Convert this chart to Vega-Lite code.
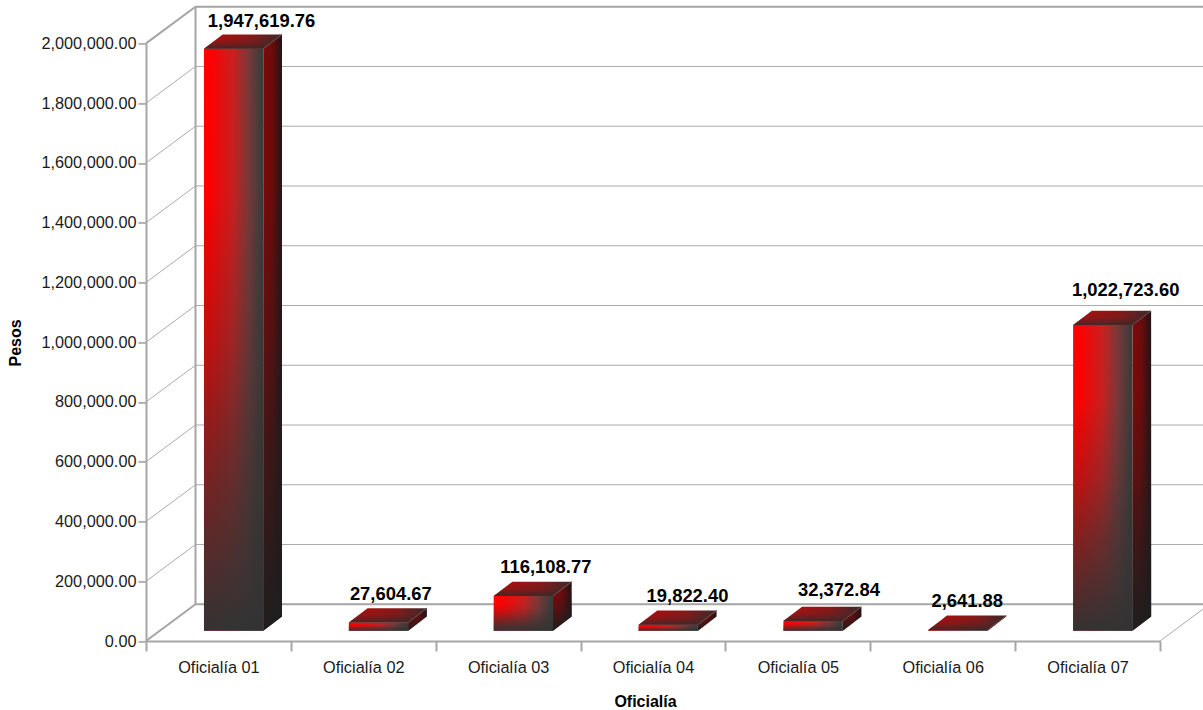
{"$schema":"https://vega.github.io/schema/vega-lite/v6.json","width":1014,"height":597.6,"autosize":"none","padding":{"left":146,"top":43.4,"right":43,"bottom":69},"background":"white","config":{"font":"Liberation Sans","view":{"stroke":null}},"datasets":{"bars":[{"oficialia":"Oficialía 01","pesos":1947619.76},{"oficialia":"Oficialía 02","pesos":27604.67},{"oficialia":"Oficialía 03","pesos":116108.77},{"oficialia":"Oficialía 04","pesos":19822.40},{"oficialia":"Oficialía 05","pesos":32372.84},{"oficialia":"Oficialía 06","pesos":2641.88},{"oficialia":"Oficialía 07","pesos":1022723.60}],"grid":[{"pesos":0},{"pesos":200000},{"pesos":400000},{"pesos":600000},{"pesos":800000},{"pesos":1000000},{"pesos":1200000},{"pesos":1400000},{"pesos":1600000},{"pesos":1800000},{"pesos":2000000}]},"encoding":{"y":{"field":"pesos","type":"quantitative","scale":{"domain":[0,2000000],"nice":false,"zero":true},"axis":{"title":"Pesos","titleFontSize":16,"titleFontWeight":"bold","titleColor":"#000000","titleX":-126,"titleY":299,"titleBaseline":"alphabetic","format":",.2f","values":[0,200000,400000,600000,800000,1000000,1200000,1400000,1600000,1800000,2000000],"labelFontSize":16.3,"labelColor":"#1a1a1a","labelPadding":2,"tickSize":8,"tickColor":"#b0b0b0","tickWidth":2,"domainColor":"#a6a6a6","domainWidth":2,"grid":false}}},"resolve":{"scale":{"x":"independent"}},"layer":[{"data":{"name":"grid"},"encoding":{"x":{"datum":"Oficialía 01","type":"nominal","bandPosition":0,"scale":{"type":"band","domain":["Oficialía 01","Oficialía 02","Oficialía 03","Oficialía 04","Oficialía 05","Oficialía 06","Oficialía 07"],"padding":0},"axis":{"title":"Oficialía","titleFontSize":16,"titleFontWeight":"bold","titleColor":"#000000","titleX":499,"titleY":65,"titleBaseline":"alphabetic","labelFontSize":16.3,"labelColor":"#1a1a1a","labelAngle":0,"labelPadding":8,"tickBand":"extent","tickSize":10,"tickColor":"#a6a6a6","tickWidth":2,"domainColor":"#a6a6a6","domainWidth":2,"grid":false}}},"layer":[{"mark":{"type":"point","shape":"M0 0L49.5 -36.7L1063.5 -36.7","size":4,"filled":false,"stroke":"#ababab","strokeWidth":1,"opacity":1}},{"transform":[{"filter":"datum.pesos==0||datum.pesos==2000000"}],"mark":{"type":"point","shape":"M0 0L49.5 -36.7L1063.5 -36.7","size":4,"filled":false,"stroke":"#a6a6a6","strokeWidth":2,"opacity":1}},{"transform":[{"filter":"datum.pesos==2000000"}],"mark":{"type":"point","shape":"M49.5 -36.7L49.5 560.9","size":4,"filled":false,"stroke":"#a6a6a6","strokeWidth":2,"opacity":1}},{"transform":[{"filter":"datum.pesos==0"}],"encoding":{"x":{"datum":"Oficialía 07","type":"nominal","bandPosition":1}},"mark":{"type":"point","shape":"M0 0L49.5 -36.7","size":4,"filled":false,"stroke":"#ababab","strokeWidth":1,"opacity":1}}]},{"data":{"name":"bars"},"transform":[{"window":[{"op":"row_number","as":"n"}]},{"calculate":"[0,1]","as":"edge"},{"flatten":["edge"]},{"calculate":"datum.n-1+0.8097+datum.edge*0.1291","as":"xSide"},{"calculate":"datum.pesos+34471+datum.edge*47858","as":"yTop"},{"calculate":"34471+datum.edge*47858","as":"yBase"}],"encoding":{"x":{"field":"xSide","type":"quantitative","scale":{"domain":[0,7],"nice":false,"zero":false},"axis":null},"y":{"field":"yTop","type":"quantitative","scale":{"domain":[0,2000000],"nice":false,"zero":true},"axis":{"title":"Pesos","titleFontSize":16,"titleFontWeight":"bold","titleColor":"#000000","titleX":-126,"titleY":299,"titleBaseline":"alphabetic","format":",.2f","values":[0,200000,400000,600000,800000,1000000,1200000,1400000,1600000,1800000,2000000],"labelFontSize":16.3,"labelColor":"#1a1a1a","labelPadding":2,"tickSize":8,"tickColor":"#b0b0b0","tickWidth":2,"domainColor":"#a6a6a6","domainWidth":2,"grid":false}},"y2":{"field":"yBase"},"detail":{"field":"oficialia"}},"layer":[{"mark":{"type":"area","opacity":1,"interpolate":"linear","fill":{"gradient":"linear","x1":0,"y1":0,"x2":1,"y2":0,"stops":[{"offset":0,"color":"#800808"},{"offset":0.5,"color":"#6a0c0c"},{"offset":1,"color":"#201418"}]}}},{"mark":{"type":"area","opacity":1,"interpolate":"linear","fill":{"gradient":"linear","x1":0,"y1":0,"x2":0,"y2":1,"stops":[{"offset":0,"color":"rgba(30,30,30,0)"},{"offset":0.25,"color":"rgba(30,30,30,0.02)"},{"offset":0.5,"color":"rgba(30,30,30,0.3)"},{"offset":0.7,"color":"rgba(30,30,30,0.62)"},{"offset":1,"color":"rgba(30,30,30,1)"}]}}}]},{"data":{"name":"bars"},"encoding":{"x":{"field":"oficialia","type":"nominal","scale":{"type":"band","domain":["Oficialía 01","Oficialía 02","Oficialía 03","Oficialía 04","Oficialía 05","Oficialía 06","Oficialía 07"],"padding":0},"axis":null}},"layer":[{"mark":{"type":"bar","size":59.3,"xOffset":15.2,"yOffset":-10.3,"y2Offset":-10.3,"fill":{"gradient":"linear","x1":0,"y1":0,"x2":1,"y2":0,"stops":[{"offset":0.1,"color":"#ff0000"},{"offset":0.5,"color":"#c82020"},{"offset":0.75,"color":"#7a3838"},{"offset":0.97,"color":"#3c3c3c"}]}}},{"mark":{"type":"bar","size":59.3,"xOffset":15.2,"yOffset":-10.3,"y2Offset":-10.3,"fill":{"gradient":"linear","x1":0,"y1":0,"x2":0,"y2":1,"stops":[{"offset":0,"color":"rgba(51,51,51,0)"},{"offset":0.25,"color":"rgba(51,51,51,0.02)"},{"offset":0.5,"color":"rgba(51,51,51,0.3)"},{"offset":0.7,"color":"rgba(51,51,51,0.62)"},{"offset":1,"color":"rgba(51,51,51,1)"}]}}},{"mark":{"type":"point","shape":"M-14.45 -10.3L44.85 -10.3L63.55 -24.6L4.25 -24.6Z","size":4,"filled":true,"opacity":1,"fill":{"gradient":"linear","x1":0,"y1":0,"x2":1,"y2":0,"stops":[{"offset":0.2,"color":"#a81010"},{"offset":0.6,"color":"#8a1818"},{"offset":1,"color":"#3a2a2a"}]}}},{"mark":{"type":"point","shape":"M-14.45 -10.3L44.85 -10.3L63.55 -24.6L4.25 -24.6Z","size":4,"filled":true,"opacity":1,"fill":{"gradient":"linear","x1":0,"y1":0,"x2":0,"y2":1,"stops":[{"offset":0,"color":"rgba(58,40,40,0)"},{"offset":0.5,"color":"rgba(58,40,40,0.2)"},{"offset":1,"color":"rgba(58,40,40,0.9)"}]}}},{"mark":{"type":"point","shape":"M44.85 -10.3L63.55 -24.6","size":4,"filled":false,"stroke":"#6a4a4a","strokeWidth":1,"opacity":1}},{"transform":[{"filter":"datum.oficialia=='Oficialía 01'"}],"mark":{"type":"text","fontSize":18.4,"fontWeight":"bold","color":"#000000","baseline":"alphabetic","dx":43.1,"dy":-32.3},"encoding":{"text":{"field":"pesos","type":"quantitative","format":",.2f"}}},{"transform":[{"filter":"datum.oficialia=='Oficialía 02'"}],"mark":{"type":"text","fontSize":18.4,"fontWeight":"bold","color":"#000000","baseline":"alphabetic","dx":27.5,"dy":-32.75},"encoding":{"text":{"field":"pesos","type":"quantitative","format":",.2f"}}},{"transform":[{"filter":"datum.oficialia=='Oficialía 03'"}],"mark":{"type":"text","fontSize":18.4,"fontWeight":"bold","color":"#000000","baseline":"alphabetic","dx":37.7,"dy":-33},"encoding":{"text":{"field":"pesos","type":"quantitative","format":",.2f"}}},{"transform":[{"filter":"datum.oficialia=='Oficialía 04'"}],"mark":{"type":"text","fontSize":18.4,"fontWeight":"bold","color":"#000000","baseline":"alphabetic","dx":34.5,"dy":-32.8},"encoding":{"text":{"field":"pesos","type":"quantitative","format":",.2f"}}},{"transform":[{"filter":"datum.oficialia=='Oficialía 05'"}],"mark":{"type":"text","fontSize":18.4,"fontWeight":"bold","color":"#000000","baseline":"alphabetic","dx":41.1,"dy":-35.3},"encoding":{"text":{"field":"pesos","type":"quantitative","format":",.2f"}}},{"transform":[{"filter":"datum.oficialia=='Oficialía 06'"}],"mark":{"type":"text","fontSize":18.4,"fontWeight":"bold","color":"#000000","baseline":"alphabetic","dx":24.5,"dy":-32.9},"encoding":{"text":{"field":"pesos","type":"quantitative","format":",.2f"}}},{"transform":[{"filter":"datum.oficialia=='Oficialía 07'"}],"mark":{"type":"text","fontSize":18.4,"fontWeight":"bold","color":"#000000","baseline":"alphabetic","dx":38.1,"dy":-39.4},"encoding":{"text":{"field":"pesos","type":"quantitative","format":",.2f"}}}]}]}
